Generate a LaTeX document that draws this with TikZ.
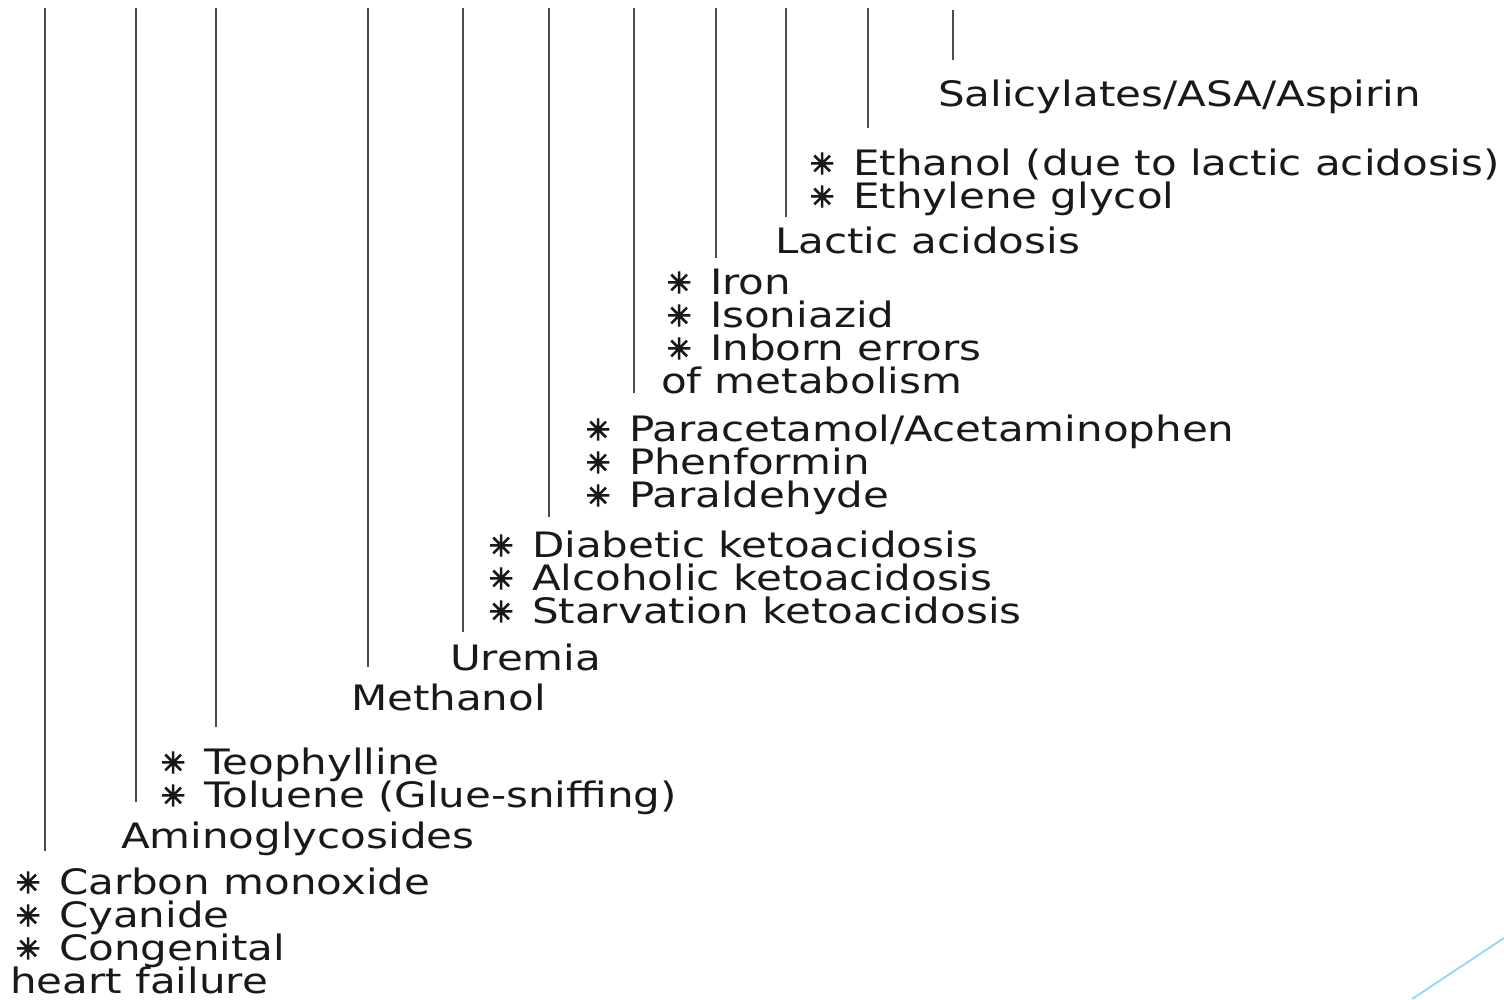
\documentclass[tikz,border=0pt]{standalone}
\usepackage{fontspec}
\setmainfont[FakeStretch=1.2]{DejaVu Sans}
\newfontfamily\astfont[FakeBold=4]{DejaVu Sans}
\newcommand\stt{\makebox[48pt][l]{\hspace*{5pt}\raisebox{1pt}{\astfont\fontsize{29}{33}\selectfont ✳}}}
\begin{document}
\begin{tikzpicture}[x=1pt,y=1pt,
  lbl/.style={anchor=base west,inner sep=0pt,outer sep=0pt,text=black!90,font=\fontsize{35}{33}\selectfont},
  vline/.style={draw=black!70,line width=2.4pt},
  deco/.style={draw=cyan!50!white,line width=1.6pt}]
\useasboundingbox (0,0) rectangle (1504,-999);
% labels
\node[lbl] (sal) at (938,-106) {Salicylates/ASA/Aspirin};
\node[lbl] (eth1) at (805,-175) {\stt Ethanol (due to lactic acidosis)};
\node[lbl] (eth2) at (805,-208) {\stt Ethylene glycol};
\node[lbl] (lac) at (775,-253) {Lactic acidosis};
\node[lbl] (ir1) at (662,-294) {\stt Iron};
\node[lbl] (ir2) at (662,-327) {\stt Isoniazid};
\node[lbl] (ir3) at (662,-360) {\stt Inborn errors};
\node[lbl] (ir4) at (661,-393) {of metabolism};
\node[lbl] (pa1) at (581,-441) {\stt Paracetamol/Acetaminophen};
\node[lbl] (pa2) at (581,-474) {\stt Phenformin};
\node[lbl] (pa3) at (581,-507) {\stt Paraldehyde};
\node[lbl] (dk1) at (484,-557) {\stt Diabetic ketoacidosis};
\node[lbl] (dk2) at (484,-590) {\stt Alcoholic ketoacidosis};
\node[lbl] (dk3) at (484,-623) {\stt Starvation ketoacidosis};
\node[lbl] (ure) at (450,-670) {Uremia};
\node[lbl] (met) at (351,-710) {Methanol};
\node[lbl] (te1) at (156,-774) {\stt Teophylline};
\node[lbl] (te2) at (156,-807) {\stt Toluene (Glue-sniffing)};
\node[lbl] (ami) at (121,-848) {Aminoglycosides};
\node[lbl] (co1) at (11,-894) {\stt Carbon monoxide};
\node[lbl] (co2) at (11,-927) {\stt Cyanide};
\node[lbl] (co3) at (11,-960) {\stt Congenital};
\node[lbl] (co4) at (10,-993) {heart failure};
% line ends
\foreach \n/\x/\yt/\yb in {a/45/8/851, b/136/8/802, c/216/8/727, d/368/8/667, e/463/8/632, f/549/8/517, g/634/8/393, h/716/8/258, i/786/8/217, j/868/8/128, k/953/10/60}{
  \coordinate (t\n) at (\x,-\yt);
  \coordinate (b\n) at (\x,-\yb);
}
\foreach \n in {a,b,c,d,e,f,g,h,i,j,k}{\draw[vline] (t\n) -- (b\n);}
% decoration
\coordinate (d1) at (1412,-999);
\coordinate (d2) at (1504,-938);
\draw[deco] (d1) -- (d2);
\end{tikzpicture}
\end{document}
